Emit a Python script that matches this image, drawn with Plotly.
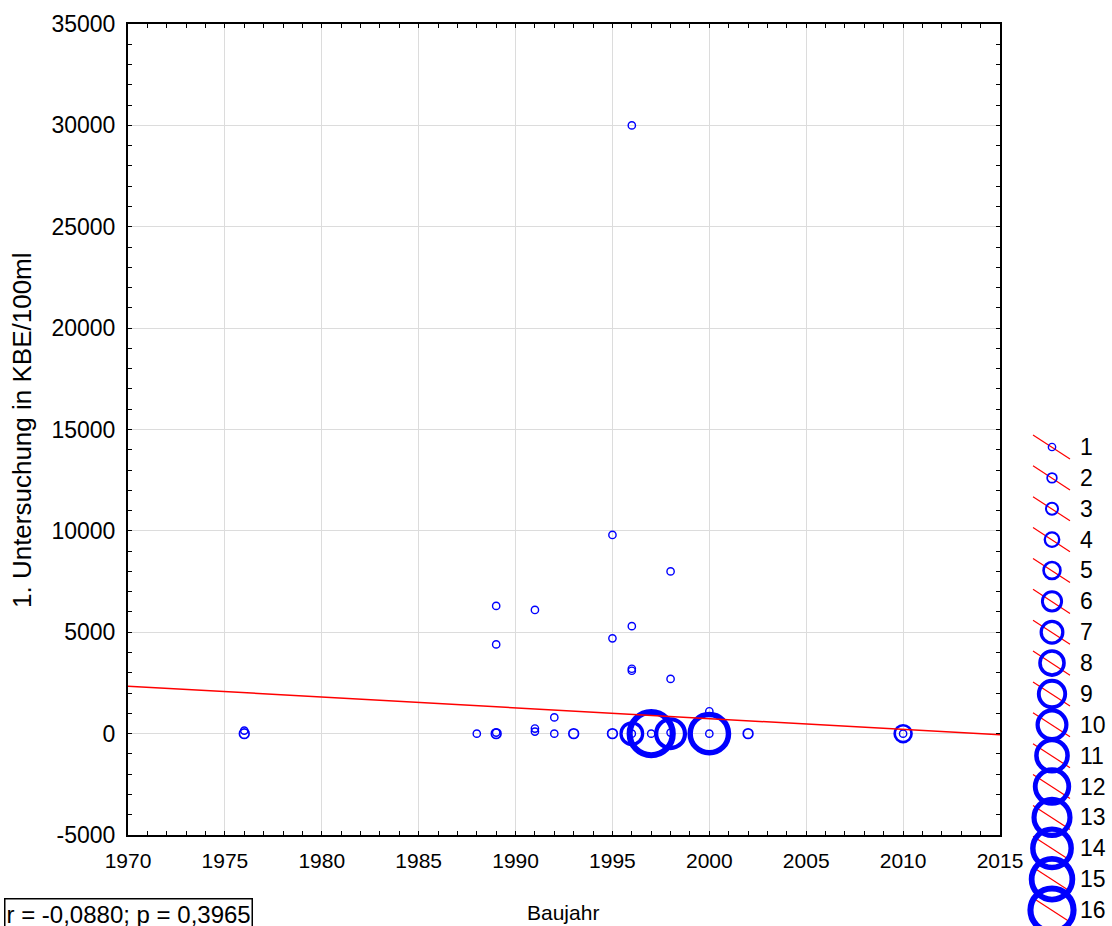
import plotly.graph_objects as go

# ---------------- data ----------------
baujahr = [1976, 1976, 1988, 1989, 1989, 1989, 1989, 1991, 1991, 1991,
           1992, 1992, 1993, 1995, 1995, 1995, 1996, 1996, 1996, 1996,
           1996, 1996, 1997, 1997, 1998, 1998, 1998, 1998, 2000, 2000,
           2000, 2002, 2010, 2010]
kbe = [0, 150, 0, 0, 50, 4400, 6300, 100, 250, 6100,
       800, 0, 0, 0, 4700, 9800, 0, 0, 3100, 3200,
       5300, 30000, 0, 0, 0, 50, 2700, 8000, 0, 0,
       1100, 0, 0, 0]
anzahl = [2, 1, 1, 2, 1, 1, 1, 1, 1, 1,
          1, 1, 2, 2, 1, 1, 7, 1, 1, 1,
          1, 1, 16, 1, 10, 1, 1, 1, 14, 1,
          1, 2, 5, 1]

fit_x = [1970, 2015]
fit_y = [2340, -60]

legend_sizes = list(range(1, 17))

x_ticks = [1970, 1975, 1980, 1985, 1990, 1995, 2000, 2005, 2010, 2015]
y_ticks = [-5000, 0, 5000, 10000, 15000, 20000, 25000, 30000, 35000]
y_tick_text = ["-5000", "0", "5000", "10000", "15000", "20000", "25000", "30000", "35000"]

stat_text = "r = -0,0880; p = 0,3965"
x_title = "Baujahr"
y_title = "1. Untersuchung in KBE/100ml"

# ---------------- styling helpers ----------------
FONT = "Liberation Sans, Arial, sans-serif"
BLUE = "#0000ff"
RED = "#ff0000"


def line_w(s):
    return 1.4 + (s - 1) / 3.2


def mark_size(s):
    return 6.0 + 2.7 * s - line_w(s)


W, H = 1112, 926
ML, MT = 128, 24
PLOT_R, PLOT_B = 1000, 835
paper_w = W - ML
paper_h = H - MT


def px_x(px):
    return (px - ML) / paper_w


def px_y(py):
    return (H - py) / paper_h


fig = go.Figure()

# main scatter
fig.add_trace(go.Scatter(
    x=baujahr, y=kbe, mode="markers", opacity=1,
    marker=dict(symbol="circle", color="rgba(0,0,0,0)", opacity=1,
                size=[mark_size(s) for s in anzahl],
                line=dict(color=BLUE, width=[line_w(s) for s in anzahl])),
    showlegend=False, hoverinfo="x+y"))

# regression line
fig.add_trace(go.Scatter(x=fit_x, y=fit_y, mode="lines",
                         line=dict(color=RED, width=1.5),
                         showlegend=False, hoverinfo="skip"))

# custom legend (bubble sizes with red diagonal line)
lx, ly = [], []
for s in legend_sizes:
    lx += [8, 45, None]
    ly += [s - 0.39, s + 0.39, None]
fig.add_trace(go.Scatter(x=lx, y=ly, mode="lines", xaxis="x2", yaxis="y2",
                         line=dict(color=RED, width=1.2),
                         showlegend=False, hoverinfo="skip"))
fig.add_trace(go.Scatter(
    x=[27] * len(legend_sizes), y=legend_sizes, mode="markers",
    xaxis="x2", yaxis="y2", opacity=1,
    marker=dict(symbol="circle", color="rgba(0,0,0,0)", opacity=1,
                size=[mark_size(s) for s in legend_sizes],
                line=dict(color=BLUE, width=[line_w(s) for s in legend_sizes])),
    showlegend=False, hoverinfo="skip"))

annotations = []
for s in legend_sizes:
    annotations.append(dict(x=53, y=s, xref="x2", yref="y2", text=str(s),
                            showarrow=False, xanchor="left", yanchor="middle",
                            font=dict(family=FONT, size=23, color="black")))

annotations.append(dict(x=px_x(22), y=px_y(430), xref="paper", yref="paper",
                        text=y_title, textangle=-90, showarrow=False,
                        xanchor="center", yanchor="middle",
                        font=dict(family=FONT, size=26, color="black")))
annotations.append(dict(x=px_x(563), y=px_y(912), xref="paper", yref="paper",
                        text=x_title, showarrow=False,
                        xanchor="center", yanchor="middle",
                        font=dict(family=FONT, size=21, color="black")))
annotations.append(dict(x=px_x(4), y=px_y(898), xref="paper", yref="paper",
                        text=stat_text, showarrow=False,
                        xanchor="left", yanchor="top",
                        bordercolor="black", borderwidth=1.5, borderpad=1,
                        bgcolor="white",
                        font=dict(family=FONT, size=24, color="black")))

axis_common = dict(showline=True, linecolor="black", linewidth=2, mirror="ticks",
                   ticks="inside", ticklen=4, tickwidth=1, tickcolor="black",
                   showgrid=True, gridcolor="#dcdcdc", gridwidth=1,
                   zeroline=False, tickmode="array", ticklabelstandoff=6,
                   automargin=False)

fig.update_layout(
    width=W, height=H,
    margin=dict(l=ML, r=0, t=MT, b=0, pad=0, autoexpand=False),
    paper_bgcolor="white", plot_bgcolor="white",
    font=dict(family=FONT, color="black"),
    xaxis=dict(axis_common, domain=[0, px_x(PLOT_R)], range=[1970, 2015],
               tickvals=x_ticks, ticktext=[str(v) for v in x_ticks],
               tickfont=dict(family=FONT, size=21, color="black"),
               minor=dict(tickmode="linear", tick0=1970, dtick=1, ticks="inside",
                          ticklen=4, tickcolor="black", showgrid=False)),
    yaxis=dict(axis_common, domain=[px_y(PLOT_B), 1], range=[-5000, 35000],
               tickvals=y_ticks, ticktext=y_tick_text,
               tickfont=dict(family=FONT, size=23, color="black"),
               minor=dict(tickmode="linear", tick0=0, dtick=1000, ticks="inside",
                          ticklen=4, tickcolor="black", showgrid=False)),
    xaxis2=dict(domain=[px_x(1025), 1.0], range=[0, 87], visible=False,
                anchor="y2", fixedrange=True, automargin=False),
    yaxis2=dict(domain=[0, px_y(430)], range=[16.517, 0.449], visible=False,
                anchor="x2", fixedrange=True, automargin=False),
    annotations=annotations,
    showlegend=False,
)

fig.write_html("out.html",
               config={"displayModeBar": False},
               post_script="document.body.style.margin='0';"
                           "document.body.style.overflow='hidden';")
